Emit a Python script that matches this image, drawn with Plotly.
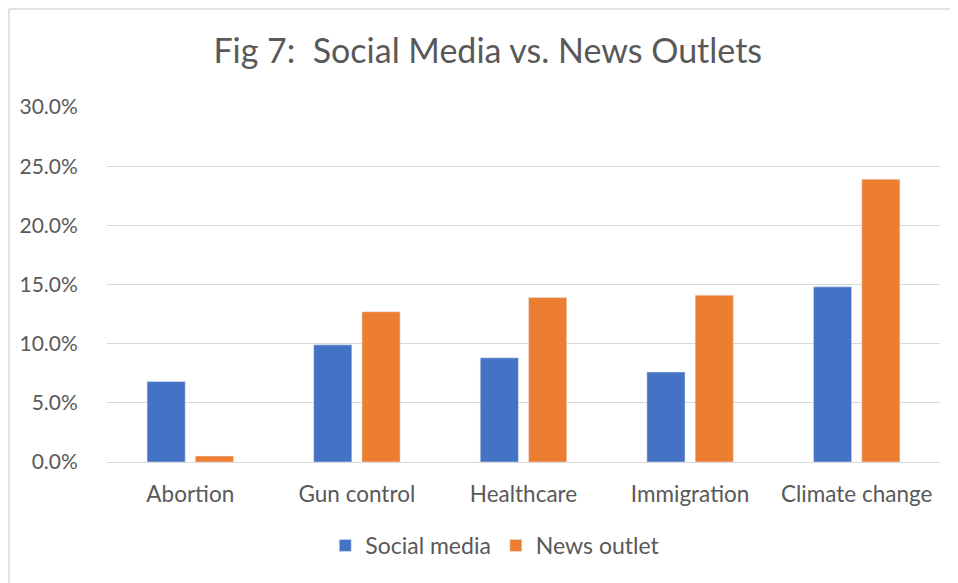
import plotly.graph_objects as go

categories = ["Abortion", "Gun control", "Healthcare", "Immigration", "Climate change"]
social_media = [0.068, 0.099, 0.088, 0.076, 0.148]
news_outlet = [0.005, 0.127, 0.139, 0.141, 0.239]

font_family = "Lato, 'Open Sans', sans-serif"
grey = "#595959"

fig = go.Figure()
fig.add_trace(go.Bar(x=categories, y=social_media, name="Social media",
                     marker=dict(color="#4472c4")))
fig.add_trace(go.Bar(x=categories, y=news_outlet, name="News outlet",
                     marker=dict(color="#ed7d31")))

# page body has an 8px margin, so the figure is a bit smaller and shifted
fig.update_layout(
    width=950, height=575,
    margin=dict(l=99, r=18, t=99, b=121),
    paper_bgcolor="white", plot_bgcolor="white",
    font=dict(family=font_family, color=grey, size=22),
    title=dict(text="Fig 7:  Social Media vs. News Outlets", x=0.505, xanchor="center",
               y=0.925, yanchor="middle", font=dict(size=34, color=grey)),
    barmode="group", bargap=0.42, bargroupgap=0.21,
    legend=dict(orientation="h", x=0.262, xanchor="left", y=-0.235, yanchor="middle",
                font=dict(size=23, color=grey), traceorder="normal",
                itemwidth=30, tracegroupgap=0),
    xaxis=dict(showgrid=False, showline=True, linecolor="#d9d9d9", linewidth=1,
               ticks="outside", ticklen=12, tickcolor="rgba(0,0,0,0)",
               tickfont=dict(size=22.5, color=grey)),
    yaxis=dict(range=[0, 0.30], dtick=0.05, tickformat=".1%", showgrid=True,
               gridcolor="#d9d9d9", gridwidth=1, zeroline=False, showline=False,
               ticks="outside", ticklen=24, tickcolor="rgba(0,0,0,0)",
               tickfont=dict(size=21, color=grey)),
    shapes=[
        dict(type="line", xref="paper", yref="paper", x0=-0.1176, x1=1.1,
             y0=1.276, y1=1.276, line=dict(color="#d9d9d9", width=1.5)),
        dict(type="line", xref="paper", yref="paper", x0=-0.1176, x1=-0.1176,
             y0=1.276, y1=-0.5, line=dict(color="#d9d9d9", width=1.5)),
    ],
)

fig.write_html("out.html")
